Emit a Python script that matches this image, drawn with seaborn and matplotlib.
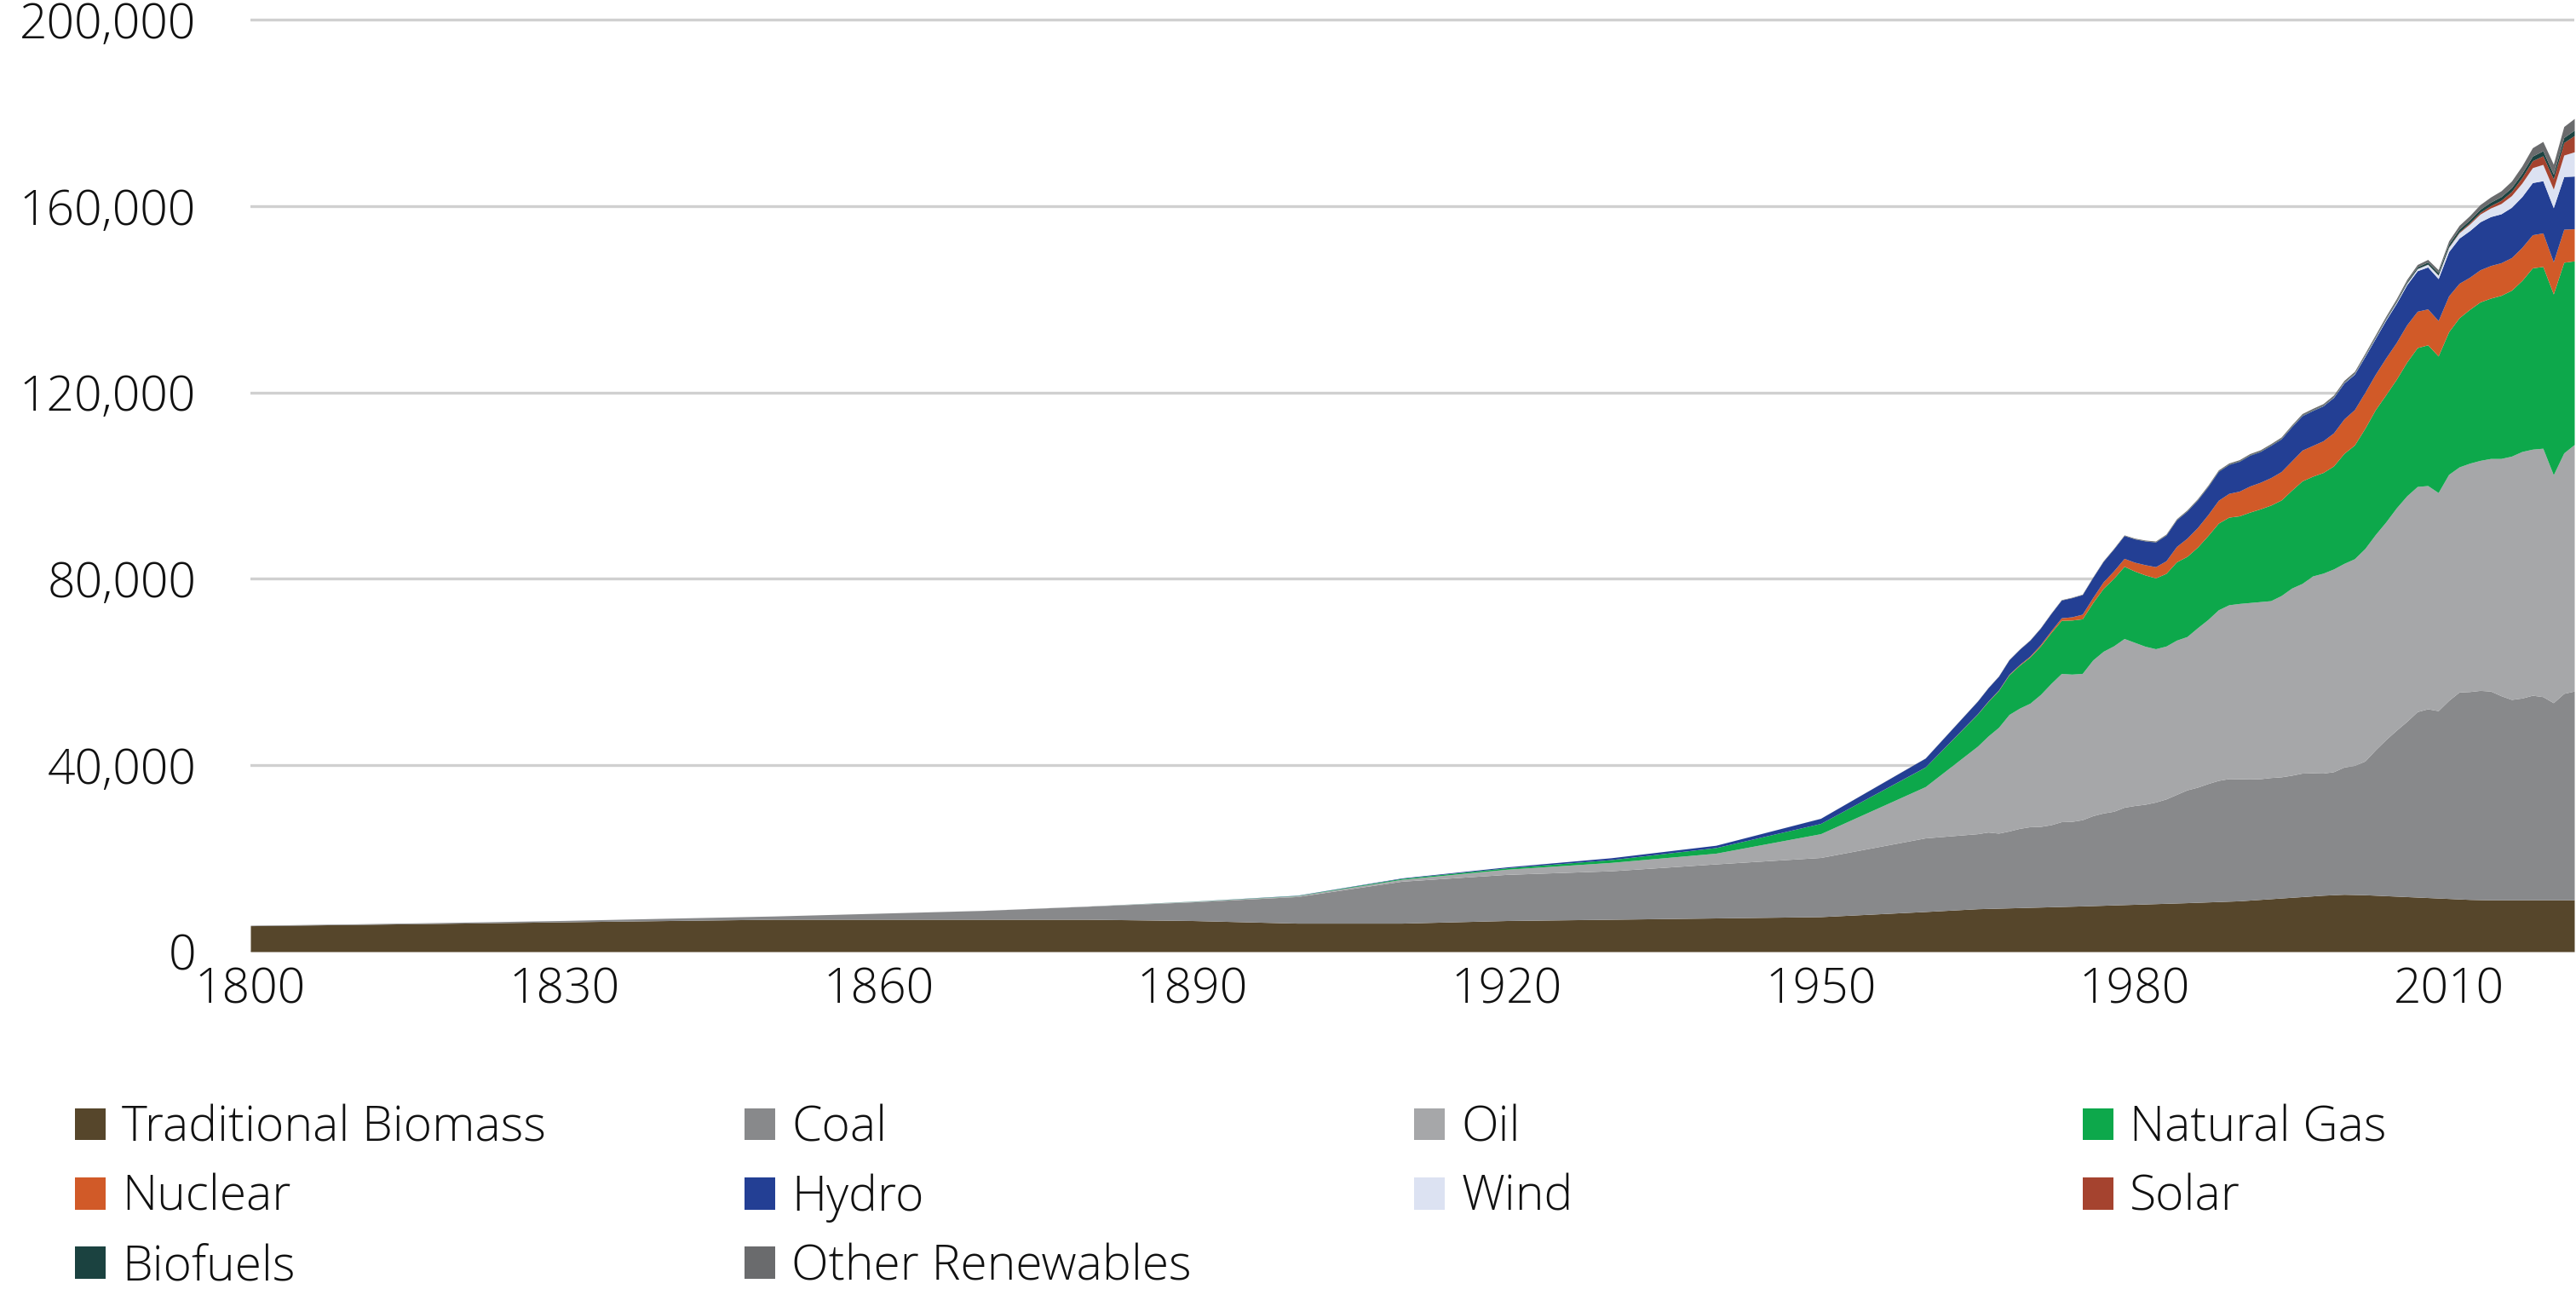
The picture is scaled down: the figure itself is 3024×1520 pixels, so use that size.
import numpy as np
import pandas as pd
import matplotlib
matplotlib.use("Agg")
import matplotlib.pyplot as plt
import seaborn as sns
from matplotlib.patches import Patch
from matplotlib.ticker import FuncFormatter

# --- data (TWh) ---
years = ([1800, 1810, 1820, 1830, 1840, 1850, 1860, 1870, 1880, 1890,
          1900, 1910, 1920, 1930, 1940, 1950, 1960]
         + list(range(1965, 2023)))

traditional_biomass = [
    5560, 5830, 6110, 6390, 6670, 6940, 6940, 6940, 6940, 6670,
    6110, 6110, 6670, 6940, 7220, 7500, 8600,
    9200, 9260, 9320, 9380, 9440, 9500, 9560, 9620, 9680, 9740,
    9800, 9870, 9940, 10010, 10080, 10150, 10220, 10290, 10360, 10430,
    10500, 10580, 10660, 10740, 10820, 10900, 11050, 11200, 11350, 11500,
    11650, 11800, 11950, 12100, 12200, 12300, 12250, 12200, 12100, 12000,
    11900, 11800, 11700, 11600, 11500, 11400, 11300, 11200, 11150, 11110,
    11110, 11110, 11110, 11110, 11110, 11110, 11110, 11110]

coal = [
    100, 130, 200, 300, 500, 700, 1300, 1900, 2800, 4000,
    5700, 9000, 9900, 10400, 11600, 12700, 15800,
    16100, 16400, 16100, 16500, 17000, 17300, 17300, 17600, 18200, 18200,
    18500, 19300, 19800, 20100, 20900, 21200, 21400, 21800, 22400, 23300,
    24200, 24700, 25400, 26000, 26300, 26200, 26000, 25900, 26000, 26000,
    26200, 26500, 26400, 26200, 26400, 27300, 27700, 28700, 31200, 33500,
    35600, 37600, 39800, 40500, 40200, 42500, 44400, 44600, 44900, 44800,
    43800, 43000, 43300, 43900, 43600, 42300, 44300, 44800]

oil = [
    0, 0, 0, 0, 0, 0, 0, 10, 50, 100,
    180, 400, 1100, 1800, 2300, 5100, 11000,
    18800, 20600, 22700, 25000, 25800, 26500, 28300, 30300, 31800, 31600,
    31400, 33400, 34700, 35500, 36200, 35000, 33900, 32900, 32800, 33100,
    32900, 34200, 35200, 36600, 37300, 37600, 37850, 38000, 37950, 38900,
    40150, 40700, 42250, 42900, 43500, 43700, 44350, 45600, 46200, 46700,
    47700, 48400, 48300, 47900, 46800, 48500, 48300, 49000, 49350, 49900,
    50900, 52200, 52900, 52800, 53300, 48900, 51600, 52900]

natural_gas = [
    0, 0, 0, 0, 0, 0, 0, 0, 0, 30,
    60, 200, 300, 600, 1200, 2200, 4200,
    6900, 7400, 7900, 8500, 9200, 9900, 10400, 10900, 11400, 11600,
    11700, 12300, 13500, 14500, 15500, 15300, 15300, 15200, 15600, 16800,
    17200, 17300, 18000, 18600, 18800, 18800, 19400, 19900, 20500, 20500,
    21000, 22000, 21400, 21600, 22100, 23600, 24400, 25800, 26800, 27300,
    27600, 28700, 29800, 30200, 29300, 30600, 32000, 33000, 34000, 34400,
    35000, 35600, 36700, 38900, 39000, 38800, 40900, 39400]

nuclear = [
    0, 0, 0, 0, 0, 0, 0, 0, 0, 0,
    0, 0, 0, 0, 0, 0, 20,
    70, 100, 110, 140, 170, 220, 300, 400, 550, 700,
    1000, 1100, 1400, 1600, 1700, 1900, 2200, 2400, 2700, 3300,
    3900, 4200, 4500, 4900, 5100, 5300, 5600, 5700, 5900, 6100,
    6300, 6600, 6600, 6800, 7100, 7400, 7600, 7700, 7600, 7900,
    7900, 8000, 7800, 7700, 7600, 7700, 7400, 6900, 6900, 7000,
    7000, 7000, 7100, 7100, 7200, 6900, 7100, 6900]

hydro = [
    0, 0, 0, 0, 0, 0, 0, 0, 0, 20,
    50, 100, 200, 400, 500, 1100, 1900,
    2700, 2850, 2950, 3100, 3250, 3400, 3550, 3700, 3800, 4100,
    4200, 4300, 4400, 4700, 4900, 5000, 5100, 5300, 5500, 5700,
    5800, 5900, 6000, 6200, 6200, 6400, 6600, 6600, 6900, 7000,
    7300, 7400, 7500, 7500, 7600, 7700, 7600, 7700, 7700, 8100,
    8400, 8600, 8700, 9000, 9000, 9500, 9700, 10000, 10300, 10500,
    10500, 10800, 10900, 11200, 11200, 11600, 11300, 11300]

wind = [
    0, 0, 0, 0, 0, 0, 0, 0, 0, 0,
    0, 0, 0, 0, 0, 0, 0,
    0, 0, 0, 0, 0, 0, 0, 0, 0, 0,
    0, 0, 0, 0, 0, 0, 0, 0, 0, 0,
    0, 0, 0, 0, 0, 10, 10, 10, 10, 20,
    20, 30, 30, 40, 60, 80, 100, 140, 170, 220,
    270, 350, 450, 580, 730, 910, 1140, 1400, 1650, 1850,
    2200, 2500, 2900, 3200, 3500, 4000, 4600, 5200]

solar = [
    0, 0, 0, 0, 0, 0, 0, 0, 0, 0,
    0, 0, 0, 0, 0, 0, 0,
    0, 0, 0, 0, 0, 0, 0, 0, 0, 0,
    0, 0, 0, 0, 0, 0, 0, 0, 0, 0,
    0, 0, 0, 0, 0, 0, 0, 0, 0, 0,
    0, 0, 0, 0, 0, 3, 4, 5, 7, 9,
    12, 16, 22, 33, 50, 90, 170, 260, 360, 500,
    680, 860, 1170, 1500, 1850, 2200, 2700, 3500]

biofuels = [
    0, 0, 0, 0, 0, 0, 0, 0, 0, 0,
    0, 0, 0, 0, 0, 0, 0,
    0, 0, 0, 0, 0, 0, 0, 0, 0, 0,
    0, 0, 0, 0, 0, 30, 40, 50, 60, 70,
    80, 85, 90, 90, 95, 100, 100, 100, 105, 110,
    110, 115, 115, 115, 115, 120, 130, 150, 180, 200,
    240, 290, 350, 450, 520, 600, 620, 640, 680, 750,
    800, 860, 900, 980, 1080, 1000, 1080, 1150]

other_renewables = [
    0, 0, 0, 0, 0, 0, 0, 0, 0, 0,
    0, 0, 0, 0, 0, 10, 30,
    50, 55, 60, 65, 70, 75, 80, 85, 90, 95,
    100, 105, 110, 120, 130, 140, 150, 160, 170, 180,
    190, 200, 210, 220, 230, 240, 250, 260, 270, 280,
    290, 300, 310, 320, 330, 350, 360, 380, 400, 420,
    450, 480, 510, 560, 620, 700, 800, 900, 1000, 1100,
    1250, 1400, 1600, 1800, 2000, 2150, 2350, 2500]

sources = ["Traditional Biomass", "Coal", "Oil", "Natural Gas", "Nuclear",
           "Hydro", "Wind", "Solar", "Biofuels", "Other Renewables"]
colors = ["#56462B", "#88898B", "#A6A7A9", "#0DA84B", "#D15A28",
          "#233F94", "#DCE2F2", "#A5432F", "#1B4240", "#6A6B6D"]

x_ticks = [1800, 1830, 1860, 1890, 1920, 1950, 1980, 2010]
y_ticks = [0, 40000, 80000, 120000, 160000, 200000]

df = pd.DataFrame({
    "Traditional Biomass": traditional_biomass,
    "Coal": coal,
    "Oil": oil,
    "Natural Gas": natural_gas,
    "Nuclear": nuclear,
    "Hydro": hydro,
    "Wind": wind,
    "Solar": solar,
    "Biofuels": biofuels,
    "Other Renewables": other_renewables,
}, index=years)

# --- styling ---
sns.set_theme(style="white")
plt.rcParams['font.family'] = ['Open Sans', 'Roboto', 'DejaVu Sans']
plt.rcParams['font.weight'] = 'light'
palette = dict(zip(sources, sns.color_palette(colors)))

W, H = 3024, 1520
fig = plt.figure(figsize=(W / 100, H / 100), dpi=100)
ax = fig.add_axes([294 / W, 1 - 1117 / H, (3022 - 294) / W, (1117 - 12) / H])

ax.stackplot(df.index, [df[c] for c in sources],
             colors=[palette[c] for c in sources], linewidth=0)

ax.set_xlim(1800, 2022)
ax.set_ylim(0, 202000)
ax.set_xticks(x_ticks)
ax.set_yticks(y_ticks)
ax.yaxis.set_major_formatter(FuncFormatter(lambda v, _: f"{int(v):,}"))

ax.grid(axis='y', color='#d0d0d0', linewidth=2.4)
ax.grid(axis='x', visible=False)
ax.set_axisbelow(True)
sns.despine(ax=ax, left=True, bottom=True)
ax.tick_params(axis='both', length=0, labelsize=41, colors='#111111')
ax.tick_params(axis='y', pad=46)
ax.tick_params(axis='x', pad=12)

# legend laid out as a 4-column grid, row-wise
legend_cols = [["Traditional Biomass", "Nuclear", "Biofuels"],
               ["Coal", "Hydro", "Other Renewables"],
               ["Oil", "Wind"],
               ["Natural Gas", "Solar"]]
col_x = [88, 874, 1660, 2445]
for names, x in zip(legend_cols, col_x):
    handles = [Patch(facecolor=palette[n], edgecolor='none', label=n) for n in names]
    fig.legend(handles=handles, loc='upper left',
               bbox_to_anchor=(x / W, 1 - 1296 / H), frameon=False,
               fontsize=41, handlelength=0.64, handleheight=0.64,
               handletextpad=0.33, labelspacing=0.42,
               borderpad=0, borderaxespad=0, labelcolor='#111111')

fig.savefig('out.png', dpi=100)
